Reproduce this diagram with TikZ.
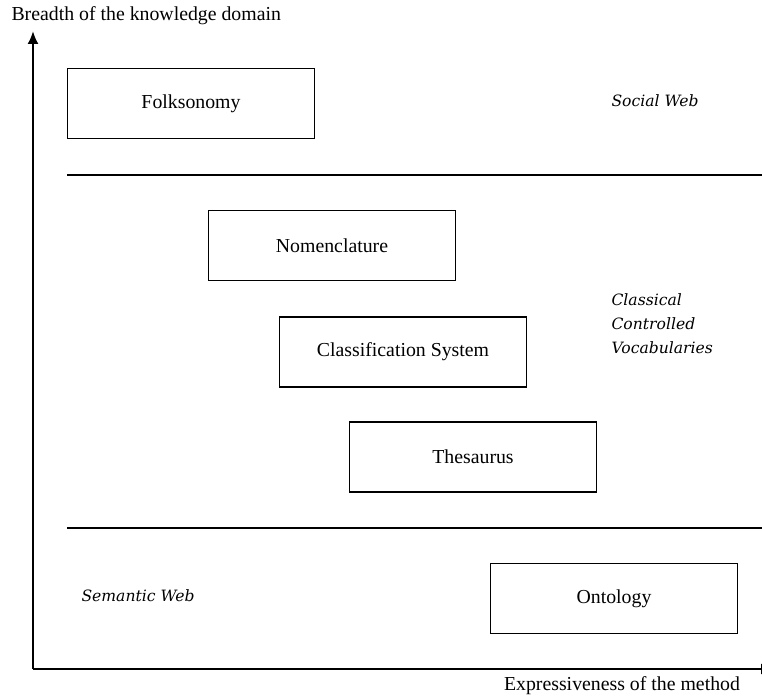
\documentclass[tikz,border=0pt]{standalone}
\usepackage{fontspec}
\setmainfont{Liberation Serif}
\newfontfamily\webfont{DejaVu Serif}
\usepackage{tikz}
\usetikzlibrary{arrows.meta}

\begin{document}
\begin{tikzpicture}[x=1pt, y=-1pt,
    box/.style={shape=rectangle, draw=black, line width=1.5pt, minimum width=247pt, minimum height=70pt, font=\fontsize{19.8}{22}\selectfont},
    axis/.style={line width=2pt, -{Latex[length=13pt, width=11pt]}},
    area/.style={font=\webfont\itshape\fontsize{15.6}{24}\selectfont, align=left}]
            \useasboundingbox (0, 0) rectangle (762, 698);

            \coordinate (O) at (33, 669);
            \coordinate (Ytip) at (33, 31);
            \coordinate (Xtip) at (774, 669);

            \path [axis] (O) edge (Ytip);
            \path [axis] (O) edge (Xtip);

            \node[anchor=west, font=\fontsize{19.8}{22}\selectfont] (ylab) at (8, 16) {Breadth of the knowledge domain};
            \node[font=\fontsize{19.8}{22}\selectfont] (xlab) at (622, 686) {Expressiveness of the method};

            \node[box] (fol) at (191, 103.5) {Folksonomy};
            \node[box] (nom) at (332, 245.5) {Nomenclature};
            \node[box] (cls) at (403, 352) {Classification System};
            \node[box] (the) at (473, 457) {Thesaurus};
            \node[box] (ont) at (614, 598.5) {Ontology};

            \coordinate (S1) at (67, 175);
            \coordinate (E1) at (762, 175);
            \coordinate (S2) at (67, 528);
            \coordinate (E2) at (762, 528);
            \path [line width=1.5pt] (S1) edge (E1);
            \path [line width=1.5pt] (S2) edge (E2);

            \node[area, anchor=west] (social) at (608, 101) {Social Web};
            \node[area, anchor=west] (classic) at (608, 324) {Classical\\Controlled\\Vocabularies};
            \node[area, anchor=west] (semantic) at (78, 596) {Semantic Web};
        \end{tikzpicture}
\end{document}
